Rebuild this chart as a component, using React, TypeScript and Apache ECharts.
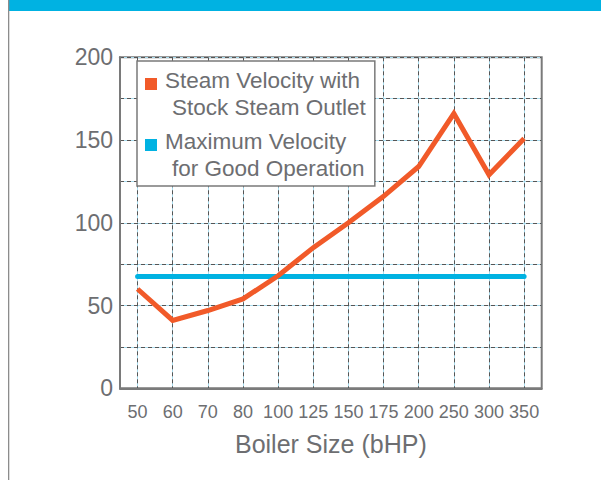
import React, { useEffect, useRef } from "react";
import * as echarts from "echarts";

const categories = ["50", "60", "70", "80", "100", "125", "150", "175", "200", "250", "300", "350"];
const steamVelocity = [60, 41, 47, 54, 68, 85, 100, 116, 134, 166, 129, 151];
const maxVelocity = [67.5, 67.5, 67.5, 67.5, 67.5, 67.5, 67.5, 67.5, 67.5, 67.5, 67.5, 67.5];
const seriesNames = ["Steam Velocity with Stock Steam Outlet", "Maximum Velocity for Good Operation"];
const legendLines: Record<string, [string, string]> = {
  "Steam Velocity with Stock Steam Outlet": ["Steam Velocity with", "Stock Steam Outlet"],
  "Maximum Velocity for Good Operation": ["Maximum Velocity", "for Good Operation"],
};
const xAxisTitle = "Boiler Size (bHP)";
const yMin = 0;
const yMax = 200;
const yStep = 25;
const yLabelStep = 50;

const FONT = "'Liberation Sans', Arial, sans-serif";
const TEXT = "#6d6e71";
const ORANGE = "#F15A29";
const BLUE = "#00B2E2";

export default function App() {
  const ref = useRef<HTMLDivElement>(null);
  useEffect(() => {
    if (!ref.current) return;
    const chart = echarts.init(ref.current, undefined, { renderer: "svg" });
    const iconPath = "path://M15 0h0.01v0.01h-0.01Z M0 4H12V16H0Z M15 40h0.01v0.01h-0.01Z";
    chart.setOption({
      animation: false,
      backgroundColor: "#ffffff",
      graphic: [
        { type: "rect", x: 9, y: 0, shape: { width: 592, height: 11 }, style: { fill: BLUE }, silent: true },
        { type: "rect", x: 8, y: 0, shape: { width: 1.3, height: 480 }, style: { fill: "#8c8c8c" }, silent: true },
      ],
      grid: {
        left: 120,
        right: 59.3,
        top: 57.3,
        bottom: 91.7,
        show: true,
        borderColor: "#7a7a7a",
        borderWidth: 2,
        backgroundColor: "transparent",
      },
      legend: {
        orient: "vertical",
        left: 137,
        top: 61,
        padding: [6, 9, 4, 8],
        itemGap: 7,
        itemWidth: 15,
        itemHeight: 40,
        backgroundColor: "#ffffff",
        borderColor: "#7a7a7a",
        borderWidth: 1.5,
        selectedMode: false,
        data: seriesNames.map((n) => ({ name: n, icon: iconPath })),
        itemStyle: { borderWidth: 0 },
        formatter: (name: string) => {
          const l = legendLines[name];
          return `{a|${l[0]}}\n{b|${l[1]}}`;
        },
        textStyle: {
          fontFamily: FONT,
          fontSize: 22.5,
          lineHeight: 27,
          color: TEXT,
          rich: {
            a: { fontFamily: FONT, fontSize: 22.5, lineHeight: 27, color: TEXT },
            b: { fontFamily: FONT, fontSize: 22.5, lineHeight: 27, color: TEXT, padding: [0, 0, 0, 7] },
          },
        },
      },
      xAxis: [
        {
          type: "category",
          data: categories,
          boundaryGap: true,
          z: 0,
          axisLine: { show: false },
          axisTick: { show: false },
          axisLabel: { show: false },
          splitLine: { show: true, alignWithLabel: true, lineStyle: { color: "#a9dcee", width: 1, type: "solid" } },
        },
        {
          type: "category",
          data: categories,
          boundaryGap: true,
          position: "bottom",
          z: 1,
          axisLine: { show: true, onZero: false, lineStyle: { color: "#7a7a7a", width: 2 } },
          axisTick: { show: false },
          axisLabel: { show: true, color: TEXT, fontFamily: FONT, fontSize: 18, margin: 15, interval: 0 },
          splitLine: { show: true, alignWithLabel: true, lineStyle: { color: "#555555", width: 1, type: [4, 3] } },
          name: xAxisTitle,
          nameLocation: "middle",
          nameGap: 43,
          nameTextStyle: { color: TEXT, fontFamily: FONT, fontSize: 25 },
        },
      ],
      yAxis: [
        {
          type: "value",
          min: yMin,
          max: yMax,
          interval: yStep,
          z: 0,
          axisLine: { show: false },
          axisTick: { show: false },
          axisLabel: { show: false },
          splitLine: { show: true, lineStyle: { color: "#a9dcee", width: 1, type: "solid" } },
        },
        {
          type: "value",
          min: yMin,
          max: yMax,
          interval: yStep,
          position: "left",
          z: 1,
          axisLine: { show: true, lineStyle: { color: "#7a7a7a", width: 2 } },
          axisTick: { show: false },
          axisLabel: {
            show: true,
            color: TEXT,
            fontFamily: FONT,
            fontSize: 23,
            margin: 7,
            formatter: (v: number) => (v % yLabelStep === 0 ? String(v) : ""),
          },
          splitLine: { show: true, lineStyle: { color: "#555555", width: 1, type: [4, 3] } },
        },
      ],
      series: [
        {
          name: seriesNames[0],
          type: "line",
          xAxisIndex: 1,
          yAxisIndex: 1,
          data: steamVelocity,
          color: ORANGE,
          symbol: "none",
          z: 3,
          lineStyle: { color: ORANGE, width: 5, join: "miter" },
        },
        {
          name: seriesNames[1],
          type: "line",
          xAxisIndex: 1,
          yAxisIndex: 1,
          data: maxVelocity,
          color: BLUE,
          symbol: "none",
          z: 2,
          lineStyle: { color: BLUE, width: 5, cap: "round" },
        },
      ],
    });
    return () => chart.dispose();
  }, []);
  return <div ref={ref} style={{ position: "absolute", left: 0, top: 0, width: 601, height: 480 }} />;
}
